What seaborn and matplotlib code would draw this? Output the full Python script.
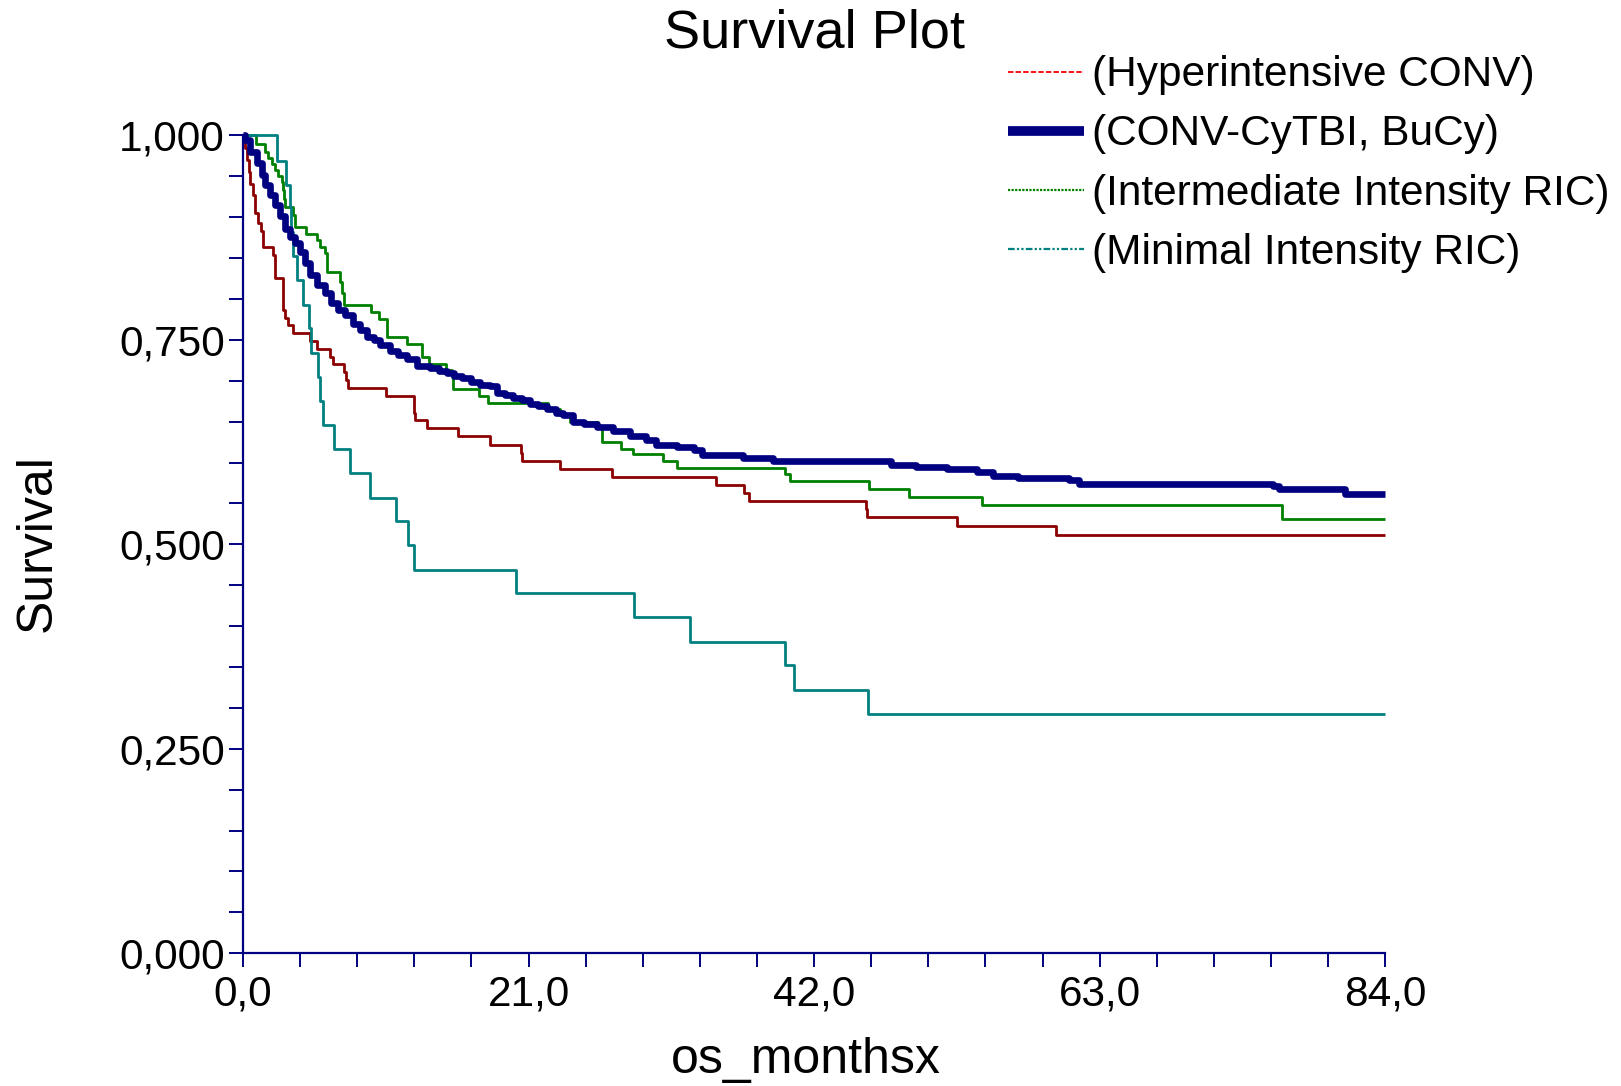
import numpy as np
import pandas as pd
import matplotlib
matplotlib.use("Agg")
import matplotlib.pyplot as plt
from matplotlib.lines import Line2D
import seaborn as sns

# ---------------- data ----------------
groups = ["(Hyperintensive CONV)", "(CONV-CyTBI, BuCy)",
          "(Intermediate Intensity RIC)", "(Minimal Intensity RIC)"]

hyper_t = [0, 0.15, 0.30, 0.45, 0.51, 0.71, 0.88, 1.13, 1.30, 1.49, 2.23, 2.35, 2.92, 3.09,
           3.33, 3.65, 4.93, 5.42, 6.40, 6.64, 7.43, 7.60, 7.75, 10.49, 12.57, 12.62, 13.5,
           15.83, 18.16, 20.45, 20.49, 23.31, 27.11, 34.78, 36.84, 37.18, 45.81, 45.85,
           52.48, 59.76, 84.0]
hyper_s = [1.0, 0.985, 0.970, 0.955, 0.941, 0.927, 0.905, 0.893, 0.883, 0.864, 0.854, 0.826,
           0.787, 0.777, 0.768, 0.758, 0.749, 0.739, 0.729, 0.720, 0.711, 0.701, 0.691, 0.681,
           0.660, 0.652, 0.642, 0.632, 0.622, 0.612, 0.602, 0.592, 0.582, 0.572, 0.563, 0.553,
           0.543, 0.533, 0.522, 0.511, 0.511]

conv_t = [0, 0.15, 0.51, 1.0, 1.37, 1.62, 1.99, 2.35, 2.72, 3.09, 3.46, 3.82, 4.19, 4.56,
          4.93, 5.42, 6.03, 6.5, 7.0, 7.5, 8.1, 8.6, 9.09, 9.6, 10.07, 10.81, 11.4, 12.03,
          12.77, 13.75, 14.4, 14.98, 15.5, 16.08, 16.8, 17.43, 18.16, 18.65, 19.3, 19.88,
          20.5, 21.10, 21.7, 22.33, 23.0, 23.55, 24.29, 25.1, 26.0, 27.23, 28.46, 29.6,
          30.37, 31.88, 33.19, 33.75, 36.76, 39.01, 47.63, 49.51, 51.76, 54.01, 55.14,
          57.01, 60.76, 61.51, 75.77, 76.15, 81.02, 84.0]
conv_s = [1.0, 0.995, 0.980, 0.966, 0.952, 0.939, 0.927, 0.915, 0.901, 0.886, 0.876, 0.868,
          0.858, 0.844, 0.829, 0.817, 0.807, 0.795, 0.786, 0.780, 0.770, 0.762, 0.754, 0.750,
          0.744, 0.736, 0.731, 0.727, 0.718, 0.715, 0.712, 0.709, 0.706, 0.703, 0.699, 0.695,
          0.693, 0.685, 0.682, 0.679, 0.676, 0.672, 0.669, 0.665, 0.661, 0.658, 0.650, 0.647,
          0.644, 0.639, 0.632, 0.628, 0.621, 0.619, 0.615, 0.609, 0.606, 0.602, 0.597, 0.595,
          0.592, 0.589, 0.584, 0.581, 0.579, 0.574, 0.571, 0.568, 0.562, 0.562]

inter_t = [0, 0.96, 1.62, 1.86, 2.11, 2.35, 2.60, 2.84, 2.96, 3.02, 3.09, 3.70, 3.82, 4.63,
           5.42, 5.66, 6.03, 6.15, 6.20, 7.13, 7.30, 7.43, 9.41, 10.0, 10.61, 12.08, 13.19,
           13.68, 14.9, 15.35, 15.47, 17.35, 18.04, 22.45, 23.31, 24.04, 26.13, 26.37, 27.77,
           28.65, 30.91, 31.93, 39.85, 40.22, 46.05, 48.99, 54.31, 76.42, 84.0]
inter_s = [1.0, 0.990, 0.980, 0.972, 0.965, 0.958, 0.950, 0.943, 0.933, 0.922, 0.912, 0.903,
           0.888, 0.880, 0.872, 0.864, 0.856, 0.845, 0.833, 0.821, 0.807, 0.793, 0.784, 0.776,
           0.753, 0.745, 0.729, 0.721, 0.713, 0.705, 0.690, 0.681, 0.673, 0.666, 0.658, 0.650,
           0.642, 0.625, 0.617, 0.610, 0.602, 0.593, 0.586, 0.578, 0.568, 0.558, 0.548, 0.531,
           0.531]

minimal_t = [0, 2.48, 3.14, 3.46, 3.55, 3.70, 3.99, 4.39, 4.88, 4.98, 5.54, 5.66, 5.90, 6.69,
             7.87, 9.34, 11.25, 12.11, 12.60, 20.07, 28.75, 32.89, 39.83, 40.51, 45.95, 84.0]
minimal_s = [1.0, 0.969, 0.939, 0.912, 0.882, 0.852, 0.823, 0.793, 0.764, 0.734, 0.705, 0.675,
             0.646, 0.616, 0.587, 0.557, 0.528, 0.499, 0.469, 0.440, 0.411, 0.381, 0.352,
             0.322, 0.293, 0.293]

ytick_vals = [0.0, 0.25, 0.5, 0.75, 1.0]
ytick_labels = ["0,000", "0,250", "0,500", "0,750", "1,000"]
xtick_vals = [0, 21, 42, 63, 84]
xtick_labels = ["0,0", "21,0", "42,0", "63,0", "84,0"]

# ---------------- style ----------------
sns.set_theme(style="white")
plt.rcParams["font.family"] = ["Liberation Sans", "DejaVu Sans"]
plt.rcParams["text.color"] = "black"
plt.rcParams["axes.labelcolor"] = "black"
plt.rcParams["xtick.color"] = "black"
plt.rcParams["ytick.color"] = "black"

navy = "#000080"
fig = plt.figure(figsize=(16.21, 10.86), dpi=100)
ax = fig.add_axes([0.1499, 0.1223, 0.7047, 0.7530])

series = [
    (hyper_t, hyper_s, "#8B0000", 2.0),
    (inter_t, inter_s, "#008000", 2.0),
    (minimal_t, minimal_s, "#008080", 2.0),
    (conv_t, conv_s, navy, 4.8),
]
for t, s, c, lw in series:
    df = pd.DataFrame({"time": t, "survival": s})
    sns.lineplot(data=df, x="time", y="survival", ax=ax, color=c, linewidth=lw,
                 drawstyle="steps-post", estimator=None, clip_on=False, legend=False,
                 solid_joinstyle="round", solid_capstyle="butt")

ax.set_xlim(0, 84)
ax.set_ylim(0, 1)
ax.set_xticks(xtick_vals)
ax.set_xticklabels(xtick_labels)
ax.set_yticks(ytick_vals)
ax.set_yticklabels(ytick_labels)
ax.set_xticks(np.arange(0, 84.01, 4.2), minor=True)
ax.set_yticks(np.arange(0, 1.001, 0.05), minor=True)
ax.set_xlabel("")
ax.set_ylabel("")

for side in ["top", "right"]:
    ax.spines[side].set_visible(False)
for side in ["left", "bottom"]:
    ax.spines[side].set_color(navy)
    ax.spines[side].set_linewidth(1.6)

ax.tick_params(axis="both", which="both", direction="out", length=10, width=1.4,
               color=navy, labelsize=30.5, labelcolor="black")
ax.tick_params(axis="y", which="both", left=True, pad=3)
ax.tick_params(axis="x", which="both", bottom=True, pad=5)

fig.text(814 / 1621, 1 - 33 / 1086, "Survival Plot", ha="center", va="center",
         fontsize=39, color="black")
fig.text(806 / 1621, 1 - 1060 / 1086, "os_monthsx", ha="center", va="center",
         fontsize=36, color="black")
fig.text(38 / 1621, 1 - 543 / 1086, "Survival", ha="center", va="center", fontsize=36,
         rotation=90, color="black")

handles = [
    Line2D([], [], color="#FF0000", linestyle=(0, (3, 1.2)), linewidth=1.3),
    Line2D([], [], color=navy, linestyle="-", linewidth=7, solid_capstyle="butt"),
    Line2D([], [], color="#008000", linestyle=(0, (1, 0.6)), linewidth=1.6),
    Line2D([], [], color="#008080", linestyle=(0, (3, 1, 1, 1, 1, 1)), linewidth=1.6),
]
leg = fig.legend(handles, groups, loc="upper left", bbox_to_anchor=(1008 / 1621, 0.949),
                 frameon=False, fontsize=30.5, borderpad=0, borderaxespad=0,
                 handlelength=1.8, handletextpad=0.19, labelspacing=0.45)
for txt in leg.get_texts():
    txt.set_color("black")

fig.savefig("out.png", dpi=100)
